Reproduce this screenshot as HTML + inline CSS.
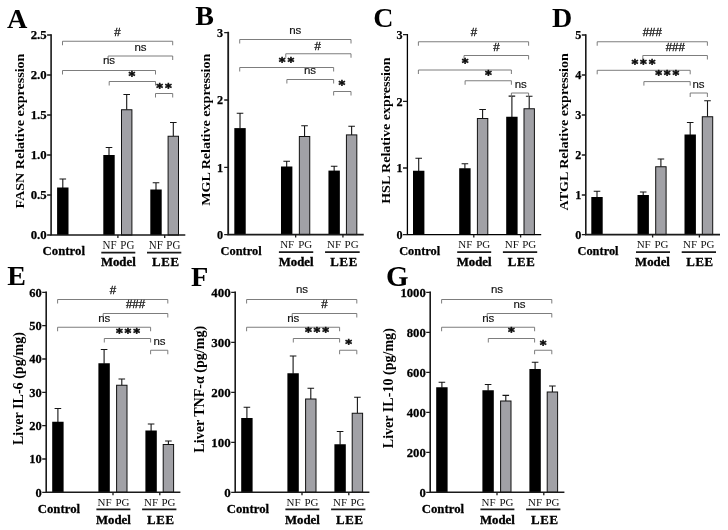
<!DOCTYPE html>
<html lang="en"><head><meta charset="utf-8"><title>Figure</title>
<style>html,body{margin:0;padding:0;background:#fff}body{width:728px;height:530px;overflow:hidden}svg{display:block;filter:blur(0.4px)}</style></head>
<body>
<svg width="728" height="530" viewBox="0 0 728 530">
<rect width="728" height="530" fill="#fff"/>
<g>
<text x="6.9" y="27.6" font-family='"Liberation Serif", "Times New Roman", serif' font-weight="bold" font-size="28.2" fill="#000">A</text>
<path d="M62.80 188.00V179.00M59.50 179.00H66.10" stroke="#151515" stroke-width="1.1" fill="none"/>
<rect x="57.10" y="187.50" width="11.40" height="47.50" fill="#000"/>
<path d="M109.00 155.50V147.50M105.70 147.50H112.30" stroke="#151515" stroke-width="1.1" fill="none"/>
<rect x="103.30" y="155.00" width="11.40" height="80.00" fill="#000"/>
<path d="M126.70 109.75V94.50M123.40 94.50H130.00" stroke="#151515" stroke-width="1.1" fill="none"/>
<rect x="121.50" y="109.75" width="10.40" height="125.25" fill="#a1a1a6" stroke="#111" stroke-width="1"/>
<path d="M156.00 190.00V182.75M152.70 182.75H159.30" stroke="#151515" stroke-width="1.1" fill="none"/>
<rect x="150.30" y="189.50" width="11.40" height="45.50" fill="#000"/>
<path d="M173.30 136.25V122.50M170.00 122.50H176.60" stroke="#151515" stroke-width="1.1" fill="none"/>
<rect x="168.10" y="136.25" width="10.40" height="98.75" fill="#a1a1a6" stroke="#111" stroke-width="1"/>
<path d="M51.10 34.30V235.00H185.30" stroke="#1a1a1a" stroke-width="1.6" fill="none"/>
<path d="M47.10 235.00H51.30M47.10 195.00H51.30M47.10 155.00H51.30M47.10 115.00H51.30M47.10 75.00H51.30M47.10 35.00H51.30M117.90 235.00V238.00M164.70 235.00V238.00" stroke="#1a1a1a" stroke-width="1.3" fill="none"/>
<text transform="translate(46.70 239.47) scale(1 1.0)" text-anchor="end" font-family='"Liberation Serif", "Times New Roman", serif' font-weight="bold" stroke="#000" stroke-width="0.25" font-size="12.8" fill="#000">0.0</text>
<text transform="translate(46.70 199.47) scale(1 1.0)" text-anchor="end" font-family='"Liberation Serif", "Times New Roman", serif' font-weight="bold" stroke="#000" stroke-width="0.25" font-size="12.8" fill="#000">0.5</text>
<text transform="translate(46.70 159.47) scale(1 1.0)" text-anchor="end" font-family='"Liberation Serif", "Times New Roman", serif' font-weight="bold" stroke="#000" stroke-width="0.25" font-size="12.8" fill="#000">1.0</text>
<text transform="translate(46.70 119.47) scale(1 1.0)" text-anchor="end" font-family='"Liberation Serif", "Times New Roman", serif' font-weight="bold" stroke="#000" stroke-width="0.25" font-size="12.8" fill="#000">1.5</text>
<text transform="translate(46.70 79.47) scale(1 1.0)" text-anchor="end" font-family='"Liberation Serif", "Times New Roman", serif' font-weight="bold" stroke="#000" stroke-width="0.25" font-size="12.8" fill="#000">2.0</text>
<text transform="translate(46.70 39.47) scale(1 1.0)" text-anchor="end" font-family='"Liberation Serif", "Times New Roman", serif' font-weight="bold" stroke="#000" stroke-width="0.25" font-size="12.8" fill="#000">2.5</text>
<text transform="translate(23.6 131) rotate(-90) scale(1.09 1)" text-anchor="middle" font-family='"Liberation Serif", "Times New Roman", serif' font-weight="bold" font-size="12.9" fill="#000">FASN Relative expression</text>
<path d="M62.50 45.25V41.25H172.70V45.25" stroke="#6e6e6e" stroke-width="0.9" fill="none"/>
<text x="117.50" y="36.30" text-anchor="middle" font-family='"Liberation Sans", Arial, sans-serif' font-size="11.5" fill="#111" stroke="#111" stroke-width="0.3">#</text>
<path d="M108.10 60.00V56.00H172.70V60.00" stroke="#6e6e6e" stroke-width="0.9" fill="none"/>
<text x="140.50" y="50.60" text-anchor="middle" font-family='"Liberation Sans", Arial, sans-serif' font-size="11.5" fill="#111" stroke="#111" stroke-width="0.15">ns</text>
<path d="M62.50 74.50V70.50H155.50V74.50" stroke="#6e6e6e" stroke-width="0.9" fill="none"/>
<text x="109.00" y="64.10" text-anchor="middle" font-family='"Liberation Sans", Arial, sans-serif' font-size="11.5" fill="#111" stroke="#111" stroke-width="0.15">ns</text>
<path d="M109.20 85.50V81.50H155.50V85.50" stroke="#6e6e6e" stroke-width="0.9" fill="none"/>
<text x="132.95" y="80.00" text-anchor="middle" font-family='"DejaVu Sans", "Liberation Sans", sans-serif' font-weight="bold" font-size="13" letter-spacing="1.9" fill="#0a0a0a" stroke="#0a0a0a" stroke-width="0.55">*</text>
<path d="M155.50 97.50V93.50H172.70V97.50" stroke="#6e6e6e" stroke-width="0.9" fill="none"/>
<text x="164.95" y="92.00" text-anchor="middle" font-family='"DejaVu Sans", "Liberation Sans", sans-serif' font-weight="bold" font-size="13" letter-spacing="1.9" fill="#0a0a0a" stroke="#0a0a0a" stroke-width="0.55">**</text>
<text transform="translate(63.80 255.30) scale(1 1.04)" text-anchor="middle" font-family='"Liberation Serif", "Times New Roman", serif' font-weight="bold" stroke="#000" stroke-width="0.25" font-size="12.8" fill="#000">Control</text>
<text transform="translate(109.50 248.80) scale(1 1.04)" text-anchor="middle" font-family='"Liberation Serif", "Times New Roman", serif' font-size="11" fill="#111">NF</text>
<text transform="translate(127.30 248.80) scale(1 1.04)" text-anchor="middle" font-family='"Liberation Serif", "Times New Roman", serif' font-size="11" fill="#111">PG</text>
<text transform="translate(155.90 248.80) scale(1 1.04)" text-anchor="middle" font-family='"Liberation Serif", "Times New Roman", serif' font-size="11" fill="#111">NF</text>
<text transform="translate(173.30 248.80) scale(1 1.04)" text-anchor="middle" font-family='"Liberation Serif", "Times New Roman", serif' font-size="11" fill="#111">PG</text>
<path d="M101.30 252.60H135.30M147.00 252.60H181.30" stroke="#1a1a1a" stroke-width="1.7" fill="none"/>
<text transform="translate(118.30 266.40) scale(1 1.02)" text-anchor="middle" font-family='"Liberation Serif", "Times New Roman", serif' font-weight="bold" stroke="#000" stroke-width="0.35" font-size="12.8" fill="#000">Model</text>
<text transform="translate(165.80 266.40) scale(1 1.02)" text-anchor="middle" font-family='"Liberation Serif", "Times New Roman", serif' font-weight="bold" stroke="#000" stroke-width="0.35" letter-spacing="0.7" font-size="12.8" fill="#000">LEE</text>
</g>
<g>
<text x="195.3" y="24.6" font-family='"Liberation Serif", "Times New Roman", serif' font-weight="bold" font-size="28" fill="#000">B</text>
<path d="M240.02 128.60V113.30M236.72 113.30H243.32" stroke="#151515" stroke-width="1.1" fill="none"/>
<rect x="234.32" y="128.10" width="11.40" height="106.50" fill="#000"/>
<path d="M286.68 167.00V161.30M283.38 161.30H289.98" stroke="#151515" stroke-width="1.1" fill="none"/>
<rect x="280.98" y="166.50" width="11.40" height="68.10" fill="#000"/>
<path d="M304.55 136.50V125.80M301.25 125.80H307.85" stroke="#151515" stroke-width="1.1" fill="none"/>
<rect x="299.35" y="136.50" width="10.40" height="98.10" fill="#a1a1a6" stroke="#111" stroke-width="1"/>
<path d="M334.15 171.10V166.20M330.85 166.20H337.45" stroke="#151515" stroke-width="1.1" fill="none"/>
<rect x="328.45" y="170.60" width="11.40" height="64.00" fill="#000"/>
<path d="M351.62 134.90V126.30M348.32 126.30H354.92" stroke="#151515" stroke-width="1.1" fill="none"/>
<rect x="346.42" y="134.90" width="10.40" height="99.70" fill="#a1a1a6" stroke="#111" stroke-width="1"/>
<path d="M228.20 31.80V234.60H363.74" stroke="#1a1a1a" stroke-width="1.8" fill="none"/>
<path d="M224.20 234.60H228.40M224.20 167.30H228.40M224.20 100.00H228.40M224.20 32.60H228.40M295.67 234.60V237.60M342.93 234.60V237.60" stroke="#1a1a1a" stroke-width="1.3" fill="none"/>
<text transform="translate(223.00 238.86) scale(1 1.0)" text-anchor="end" font-family='"Liberation Serif", "Times New Roman", serif' font-weight="bold" stroke="#000" stroke-width="0.25" font-size="12.2" fill="#000">0</text>
<text transform="translate(223.00 171.56) scale(1 1.0)" text-anchor="end" font-family='"Liberation Serif", "Times New Roman", serif' font-weight="bold" stroke="#000" stroke-width="0.25" font-size="12.2" fill="#000">1</text>
<text transform="translate(223.00 104.26) scale(1 1.0)" text-anchor="end" font-family='"Liberation Serif", "Times New Roman", serif' font-weight="bold" stroke="#000" stroke-width="0.25" font-size="12.2" fill="#000">2</text>
<text transform="translate(223.00 36.86) scale(1 1.0)" text-anchor="end" font-family='"Liberation Serif", "Times New Roman", serif' font-weight="bold" stroke="#000" stroke-width="0.25" font-size="12.2" fill="#000">3</text>
<text transform="translate(210.3 129.7) rotate(-90) scale(1.09 1)" text-anchor="middle" font-family='"Liberation Serif", "Times New Roman", serif' font-weight="bold" font-size="12.9" fill="#000">MGL Relative expression</text>
<path d="M239.71 43.50V39.50H351.01V43.50" stroke="#6e6e6e" stroke-width="0.9" fill="none"/>
<text x="295.25" y="34.10" text-anchor="middle" font-family='"Liberation Sans", Arial, sans-serif' font-size="11.5" fill="#111" stroke="#111" stroke-width="0.15">ns</text>
<path d="M285.78 57.75V53.75H351.01V57.75" stroke="#6e6e6e" stroke-width="0.9" fill="none"/>
<text x="317.75" y="49.55" text-anchor="middle" font-family='"Liberation Sans", Arial, sans-serif' font-size="11.5" fill="#111" stroke="#111" stroke-width="0.3">#</text>
<path d="M239.71 71.50V67.50H333.64V71.50" stroke="#6e6e6e" stroke-width="0.9" fill="none"/>
<text x="287.45" y="66.00" text-anchor="middle" font-family='"DejaVu Sans", "Liberation Sans", sans-serif' font-weight="bold" font-size="13" letter-spacing="1.9" fill="#0a0a0a" stroke="#0a0a0a" stroke-width="0.55">**</text>
<path d="M286.88 83.50V79.50H333.64V83.50" stroke="#6e6e6e" stroke-width="0.9" fill="none"/>
<text x="310.00" y="74.10" text-anchor="middle" font-family='"Liberation Sans", Arial, sans-serif' font-size="11.5" fill="#111" stroke="#111" stroke-width="0.15">ns</text>
<path d="M333.64 95.50V91.50H351.01V95.50" stroke="#6e6e6e" stroke-width="0.9" fill="none"/>
<text x="342.95" y="89.00" text-anchor="middle" font-family='"DejaVu Sans", "Liberation Sans", sans-serif' font-weight="bold" font-size="13" letter-spacing="1.9" fill="#0a0a0a" stroke="#0a0a0a" stroke-width="0.55">*</text>
<text transform="translate(241.03 254.90) scale(1 1.0)" text-anchor="middle" font-family='"Liberation Serif", "Times New Roman", serif' font-weight="bold" stroke="#000" stroke-width="0.25" font-size="12.4" fill="#000">Control</text>
<text transform="translate(287.18 248.40) scale(1 1.0)" text-anchor="middle" font-family='"Liberation Serif", "Times New Roman", serif' font-size="11" fill="#111">NF</text>
<text transform="translate(305.16 248.40) scale(1 1.0)" text-anchor="middle" font-family='"Liberation Serif", "Times New Roman", serif' font-size="11" fill="#111">PG</text>
<text transform="translate(334.05 248.40) scale(1 1.0)" text-anchor="middle" font-family='"Liberation Serif", "Times New Roman", serif' font-size="11" fill="#111">NF</text>
<text transform="translate(351.62 248.40) scale(1 1.0)" text-anchor="middle" font-family='"Liberation Serif", "Times New Roman", serif' font-size="11" fill="#111">PG</text>
<path d="M278.90 252.20H313.24M325.06 252.20H359.70" stroke="#1a1a1a" stroke-width="1.7" fill="none"/>
<text transform="translate(296.07 266.00) scale(1 1.02)" text-anchor="middle" font-family='"Liberation Serif", "Times New Roman", serif' font-weight="bold" stroke="#000" stroke-width="0.35" font-size="12.8" fill="#000">Model</text>
<text transform="translate(344.05 266.00) scale(1 1.02)" text-anchor="middle" font-family='"Liberation Serif", "Times New Roman", serif' font-weight="bold" stroke="#000" stroke-width="0.35" letter-spacing="0.7" font-size="12.8" fill="#000">LEE</text>
</g>
<g>
<text x="373.2" y="27.4" font-family='"Liberation Serif", "Times New Roman", serif' font-weight="bold" font-size="28" fill="#000">C</text>
<path d="M418.70 171.25V158.25M415.40 158.25H422.00" stroke="#151515" stroke-width="1.1" fill="none"/>
<rect x="413.00" y="170.75" width="11.40" height="63.85" fill="#000"/>
<path d="M464.90 168.75V163.75M461.60 163.75H468.20" stroke="#151515" stroke-width="1.1" fill="none"/>
<rect x="459.20" y="168.25" width="11.40" height="66.35" fill="#000"/>
<path d="M482.60 118.50V109.50M479.30 109.50H485.90" stroke="#151515" stroke-width="1.1" fill="none"/>
<rect x="477.40" y="118.50" width="10.40" height="116.10" fill="#a1a1a6" stroke="#111" stroke-width="1"/>
<path d="M511.90 117.25V96.10M508.60 96.10H515.20" stroke="#151515" stroke-width="1.1" fill="none"/>
<rect x="506.20" y="116.75" width="11.40" height="117.85" fill="#000"/>
<path d="M529.20 108.75V96.25M525.90 96.25H532.50" stroke="#151515" stroke-width="1.1" fill="none"/>
<rect x="524.00" y="108.75" width="10.40" height="125.85" fill="#a1a1a6" stroke="#111" stroke-width="1"/>
<path d="M407.40 33.90V234.60H541.20" stroke="#000" stroke-width="1.3" fill="none"/>
<path d="M403.00 234.60H407.20M403.00 168.00H407.20M403.00 101.30H407.20M403.00 34.60H407.20M473.80 234.60V237.60M520.60 234.60V237.60" stroke="#1a1a1a" stroke-width="1.3" fill="none"/>
<text transform="translate(402.60 238.86) scale(1 1.0)" text-anchor="end" font-family='"Liberation Serif", "Times New Roman", serif' font-weight="bold" stroke="#000" stroke-width="0.25" font-size="12.2" fill="#000">0</text>
<text transform="translate(402.60 172.26) scale(1 1.0)" text-anchor="end" font-family='"Liberation Serif", "Times New Roman", serif' font-weight="bold" stroke="#000" stroke-width="0.25" font-size="12.2" fill="#000">1</text>
<text transform="translate(402.60 105.56) scale(1 1.0)" text-anchor="end" font-family='"Liberation Serif", "Times New Roman", serif' font-weight="bold" stroke="#000" stroke-width="0.25" font-size="12.2" fill="#000">2</text>
<text transform="translate(402.60 38.86) scale(1 1.0)" text-anchor="end" font-family='"Liberation Serif", "Times New Roman", serif' font-weight="bold" stroke="#000" stroke-width="0.25" font-size="12.2" fill="#000">3</text>
<text transform="translate(389.6 130.6) rotate(-90) scale(1.09 1)" text-anchor="middle" font-family='"Liberation Serif", "Times New Roman", serif' font-weight="bold" font-size="12.9" fill="#000">HSL Relative expression</text>
<path d="M418.40 45.75V41.75H528.60V45.75" stroke="#6e6e6e" stroke-width="0.9" fill="none"/>
<text x="474.00" y="36.30" text-anchor="middle" font-family='"Liberation Sans", Arial, sans-serif' font-size="11.5" fill="#111" stroke="#111" stroke-width="0.3">#</text>
<path d="M464.00 59.50V55.50H528.60V59.50" stroke="#6e6e6e" stroke-width="0.9" fill="none"/>
<text x="496.50" y="50.80" text-anchor="middle" font-family='"Liberation Sans", Arial, sans-serif' font-size="11.5" fill="#111" stroke="#111" stroke-width="0.3">#</text>
<path d="M418.40 74.00V70.00H511.40V74.00" stroke="#6e6e6e" stroke-width="0.9" fill="none"/>
<text x="466.20" y="67.25" text-anchor="middle" font-family='"DejaVu Sans", "Liberation Sans", sans-serif' font-weight="bold" font-size="13" letter-spacing="1.9" fill="#0a0a0a" stroke="#0a0a0a" stroke-width="0.55">*</text>
<path d="M465.10 84.75V80.75H511.40V84.75" stroke="#6e6e6e" stroke-width="0.9" fill="none"/>
<text x="489.45" y="79.00" text-anchor="middle" font-family='"DejaVu Sans", "Liberation Sans", sans-serif' font-weight="bold" font-size="13" letter-spacing="1.9" fill="#0a0a0a" stroke="#0a0a0a" stroke-width="0.55">*</text>
<path d="M511.40 97.00V93.00H528.60V97.00" stroke="#6e6e6e" stroke-width="0.9" fill="none"/>
<text x="520.75" y="87.60" text-anchor="middle" font-family='"Liberation Sans", Arial, sans-serif' font-size="11.5" fill="#111" stroke="#111" stroke-width="0.15">ns</text>
<text transform="translate(419.70 254.90) scale(1 1.0)" text-anchor="middle" font-family='"Liberation Serif", "Times New Roman", serif' font-weight="bold" stroke="#000" stroke-width="0.25" font-size="12.4" fill="#000">Control</text>
<text transform="translate(465.40 248.40) scale(1 1.0)" text-anchor="middle" font-family='"Liberation Serif", "Times New Roman", serif' font-size="11" fill="#111">NF</text>
<text transform="translate(483.20 248.40) scale(1 1.0)" text-anchor="middle" font-family='"Liberation Serif", "Times New Roman", serif' font-size="11" fill="#111">PG</text>
<text transform="translate(511.80 248.40) scale(1 1.0)" text-anchor="middle" font-family='"Liberation Serif", "Times New Roman", serif' font-size="11" fill="#111">NF</text>
<text transform="translate(529.20 248.40) scale(1 1.0)" text-anchor="middle" font-family='"Liberation Serif", "Times New Roman", serif' font-size="11" fill="#111">PG</text>
<path d="M457.20 252.20H491.20M502.90 252.20H537.20" stroke="#1a1a1a" stroke-width="1.7" fill="none"/>
<text transform="translate(474.20 266.00) scale(1 1.02)" text-anchor="middle" font-family='"Liberation Serif", "Times New Roman", serif' font-weight="bold" stroke="#000" stroke-width="0.35" font-size="12.8" fill="#000">Model</text>
<text transform="translate(521.70 266.00) scale(1 1.02)" text-anchor="middle" font-family='"Liberation Serif", "Times New Roman", serif' font-weight="bold" stroke="#000" stroke-width="0.35" letter-spacing="0.7" font-size="12.8" fill="#000">LEE</text>
</g>
<g>
<text x="552.1" y="27.4" font-family='"Liberation Serif", "Times New Roman", serif' font-weight="bold" font-size="28" fill="#000">D</text>
<path d="M597.00 197.50V191.25M593.70 191.25H600.30" stroke="#151515" stroke-width="1.1" fill="none"/>
<rect x="591.30" y="197.00" width="11.40" height="37.60" fill="#000"/>
<path d="M643.20 195.50V192.00M639.90 192.00H646.50" stroke="#151515" stroke-width="1.1" fill="none"/>
<rect x="637.50" y="195.00" width="11.40" height="39.60" fill="#000"/>
<path d="M660.90 166.75V159.00M657.60 159.00H664.20" stroke="#151515" stroke-width="1.1" fill="none"/>
<rect x="655.70" y="166.75" width="10.40" height="67.85" fill="#a1a1a6" stroke="#111" stroke-width="1"/>
<path d="M690.20 135.00V122.50M686.90 122.50H693.50" stroke="#151515" stroke-width="1.1" fill="none"/>
<rect x="684.50" y="134.50" width="11.40" height="100.10" fill="#000"/>
<path d="M707.50 116.75V100.75M704.20 100.75H710.80" stroke="#151515" stroke-width="1.1" fill="none"/>
<rect x="702.30" y="116.75" width="10.40" height="117.85" fill="#a1a1a6" stroke="#111" stroke-width="1"/>
<path d="M585.80 34.30V234.60H720.00" stroke="#1a1a1a" stroke-width="1.6" fill="none"/>
<path d="M581.80 234.60H586.00M581.80 195.00H586.00M581.80 155.00H586.00M581.80 115.00H586.00M581.80 75.00H586.00M581.80 35.00H586.00M652.60 234.60V237.60M699.40 234.60V237.60" stroke="#1a1a1a" stroke-width="1.3" fill="none"/>
<text transform="translate(581.40 238.86) scale(1 1.0)" text-anchor="end" font-family='"Liberation Serif", "Times New Roman", serif' font-weight="bold" stroke="#000" stroke-width="0.25" font-size="12.2" fill="#000">0</text>
<text transform="translate(581.40 199.26) scale(1 1.0)" text-anchor="end" font-family='"Liberation Serif", "Times New Roman", serif' font-weight="bold" stroke="#000" stroke-width="0.25" font-size="12.2" fill="#000">1</text>
<text transform="translate(581.40 159.26) scale(1 1.0)" text-anchor="end" font-family='"Liberation Serif", "Times New Roman", serif' font-weight="bold" stroke="#000" stroke-width="0.25" font-size="12.2" fill="#000">2</text>
<text transform="translate(581.40 119.26) scale(1 1.0)" text-anchor="end" font-family='"Liberation Serif", "Times New Roman", serif' font-weight="bold" stroke="#000" stroke-width="0.25" font-size="12.2" fill="#000">3</text>
<text transform="translate(581.40 79.26) scale(1 1.0)" text-anchor="end" font-family='"Liberation Serif", "Times New Roman", serif' font-weight="bold" stroke="#000" stroke-width="0.25" font-size="12.2" fill="#000">4</text>
<text transform="translate(581.40 39.26) scale(1 1.0)" text-anchor="end" font-family='"Liberation Serif", "Times New Roman", serif' font-weight="bold" stroke="#000" stroke-width="0.25" font-size="12.2" fill="#000">5</text>
<text transform="translate(568 131.8) rotate(-90) scale(1.09 1)" text-anchor="middle" font-family='"Liberation Serif", "Times New Roman", serif' font-weight="bold" font-size="12.9" fill="#000">ATGL Relative expression</text>
<path d="M597.20 45.75V41.75H707.40V45.75" stroke="#6e6e6e" stroke-width="0.9" fill="none"/>
<text x="652.25" y="36.30" text-anchor="middle" font-family='"Liberation Sans", Arial, sans-serif' font-size="11.5" fill="#111" stroke="#111" stroke-width="0.3">###</text>
<path d="M642.80 59.50V55.50H707.40V59.50" stroke="#6e6e6e" stroke-width="0.9" fill="none"/>
<text x="675.25" y="50.80" text-anchor="middle" font-family='"Liberation Sans", Arial, sans-serif' font-size="11.5" fill="#111" stroke="#111" stroke-width="0.3">###</text>
<path d="M597.20 74.30V70.30H690.20V74.30" stroke="#6e6e6e" stroke-width="0.9" fill="none"/>
<text x="644.45" y="67.90" text-anchor="middle" font-family='"DejaVu Sans", "Liberation Sans", sans-serif' font-weight="bold" font-size="13" letter-spacing="1.9" fill="#0a0a0a" stroke="#0a0a0a" stroke-width="0.55">***</text>
<path d="M643.90 85.60V81.60H690.20V85.60" stroke="#6e6e6e" stroke-width="0.9" fill="none"/>
<text x="668.20" y="79.20" text-anchor="middle" font-family='"DejaVu Sans", "Liberation Sans", sans-serif' font-weight="bold" font-size="13" letter-spacing="1.9" fill="#0a0a0a" stroke="#0a0a0a" stroke-width="0.55">***</text>
<path d="M690.20 97.00V93.00H707.40V97.00" stroke="#6e6e6e" stroke-width="0.9" fill="none"/>
<text x="698.50" y="87.60" text-anchor="middle" font-family='"Liberation Sans", Arial, sans-serif' font-size="11.5" fill="#111" stroke="#111" stroke-width="0.15">ns</text>
<text transform="translate(598.00 254.90) scale(1 1.0)" text-anchor="middle" font-family='"Liberation Serif", "Times New Roman", serif' font-weight="bold" stroke="#000" stroke-width="0.25" font-size="12.4" fill="#000">Control</text>
<text transform="translate(643.70 248.40) scale(1 1.0)" text-anchor="middle" font-family='"Liberation Serif", "Times New Roman", serif' font-size="11" fill="#111">NF</text>
<text transform="translate(661.50 248.40) scale(1 1.0)" text-anchor="middle" font-family='"Liberation Serif", "Times New Roman", serif' font-size="11" fill="#111">PG</text>
<text transform="translate(690.10 248.40) scale(1 1.0)" text-anchor="middle" font-family='"Liberation Serif", "Times New Roman", serif' font-size="11" fill="#111">NF</text>
<text transform="translate(707.50 248.40) scale(1 1.0)" text-anchor="middle" font-family='"Liberation Serif", "Times New Roman", serif' font-size="11" fill="#111">PG</text>
<path d="M636.00 252.20H670.00M681.70 252.20H716.00" stroke="#1a1a1a" stroke-width="1.7" fill="none"/>
<text transform="translate(652.50 266.00) scale(1 1.02)" text-anchor="middle" font-family='"Liberation Serif", "Times New Roman", serif' font-weight="bold" stroke="#000" stroke-width="0.35" font-size="12.8" fill="#000">Model</text>
<text transform="translate(700.00 266.00) scale(1 1.02)" text-anchor="middle" font-family='"Liberation Serif", "Times New Roman", serif' font-weight="bold" stroke="#000" stroke-width="0.35" letter-spacing="0.7" font-size="12.8" fill="#000">LEE</text>
</g>
<g>
<text x="7.2" y="285.2" font-family='"Liberation Serif", "Times New Roman", serif' font-weight="bold" font-size="28" fill="#000">E</text>
<path d="M57.90 422.25V408.50M54.60 408.50H61.20" stroke="#151515" stroke-width="1.1" fill="none"/>
<rect x="52.20" y="421.75" width="11.40" height="70.55" fill="#000"/>
<path d="M104.10 363.75V349.50M100.80 349.50H107.40" stroke="#151515" stroke-width="1.1" fill="none"/>
<rect x="98.40" y="363.25" width="11.40" height="129.05" fill="#000"/>
<path d="M121.80 385.25V379.00M118.50 379.00H125.10" stroke="#151515" stroke-width="1.1" fill="none"/>
<rect x="116.60" y="385.25" width="10.40" height="107.05" fill="#a1a1a6" stroke="#111" stroke-width="1"/>
<path d="M151.10 431.00V424.00M147.80 424.00H154.40" stroke="#151515" stroke-width="1.1" fill="none"/>
<rect x="145.40" y="430.50" width="11.40" height="61.80" fill="#000"/>
<path d="M168.40 444.50V441.00M165.10 441.00H171.70" stroke="#151515" stroke-width="1.1" fill="none"/>
<rect x="163.20" y="444.50" width="10.40" height="47.80" fill="#a1a1a6" stroke="#111" stroke-width="1"/>
<path d="M46.20 291.60V492.30H180.40" stroke="#1a1a1a" stroke-width="1.6" fill="none"/>
<path d="M42.20 492.30H46.40M42.20 459.00H46.40M42.20 425.60H46.40M42.20 392.30H46.40M42.20 359.00H46.40M42.20 325.60H46.40M42.20 292.30H46.40M113.00 492.30V495.30M159.80 492.30V495.30" stroke="#1a1a1a" stroke-width="1.3" fill="none"/>
<text transform="translate(41.80 496.79) scale(1 1.03)" text-anchor="end" font-family='"Liberation Serif", "Times New Roman", serif' font-weight="bold" stroke="#000" stroke-width="0.25" font-size="12.5" fill="#000">0</text>
<text transform="translate(41.80 463.49) scale(1 1.03)" text-anchor="end" font-family='"Liberation Serif", "Times New Roman", serif' font-weight="bold" stroke="#000" stroke-width="0.25" font-size="12.5" fill="#000">10</text>
<text transform="translate(41.80 430.09) scale(1 1.03)" text-anchor="end" font-family='"Liberation Serif", "Times New Roman", serif' font-weight="bold" stroke="#000" stroke-width="0.25" font-size="12.5" fill="#000">20</text>
<text transform="translate(41.80 396.79) scale(1 1.03)" text-anchor="end" font-family='"Liberation Serif", "Times New Roman", serif' font-weight="bold" stroke="#000" stroke-width="0.25" font-size="12.5" fill="#000">30</text>
<text transform="translate(41.80 363.49) scale(1 1.03)" text-anchor="end" font-family='"Liberation Serif", "Times New Roman", serif' font-weight="bold" stroke="#000" stroke-width="0.25" font-size="12.5" fill="#000">40</text>
<text transform="translate(41.80 330.09) scale(1 1.03)" text-anchor="end" font-family='"Liberation Serif", "Times New Roman", serif' font-weight="bold" stroke="#000" stroke-width="0.25" font-size="12.5" fill="#000">50</text>
<text transform="translate(41.80 296.79) scale(1 1.03)" text-anchor="end" font-family='"Liberation Serif", "Times New Roman", serif' font-weight="bold" stroke="#000" stroke-width="0.25" font-size="12.5" fill="#000">60</text>
<text transform="translate(22.5 388.5) rotate(-90) scale(1.035 1)" text-anchor="middle" font-family='"Liberation Serif", "Times New Roman", serif' font-weight="bold" font-size="13.6" fill="#000">Liver IL-6 (pg/mg)</text>
<path d="M57.60 303.50V299.50H167.80V303.50" stroke="#6e6e6e" stroke-width="0.9" fill="none"/>
<text x="113.00" y="293.55" text-anchor="middle" font-family='"Liberation Sans", Arial, sans-serif' font-size="11.5" fill="#111" stroke="#111" stroke-width="0.3">#</text>
<path d="M103.20 317.50V313.50H167.80V317.50" stroke="#6e6e6e" stroke-width="0.9" fill="none"/>
<text x="135.50" y="308.30" text-anchor="middle" font-family='"Liberation Sans", Arial, sans-serif' font-size="11.5" fill="#111" stroke="#111" stroke-width="0.3">###</text>
<path d="M57.60 331.25V327.25H150.60V331.25" stroke="#6e6e6e" stroke-width="0.9" fill="none"/>
<text x="104.25" y="322.10" text-anchor="middle" font-family='"Liberation Sans", Arial, sans-serif' font-size="11.5" fill="#111" stroke="#111" stroke-width="0.15">ns</text>
<path d="M104.30 342.50V338.50H150.60V342.50" stroke="#6e6e6e" stroke-width="0.9" fill="none"/>
<text x="128.95" y="336.75" text-anchor="middle" font-family='"DejaVu Sans", "Liberation Sans", sans-serif' font-weight="bold" font-size="13" letter-spacing="1.9" fill="#0a0a0a" stroke="#0a0a0a" stroke-width="0.55">***</text>
<path d="M150.60 354.25V350.25H167.80V354.25" stroke="#6e6e6e" stroke-width="0.9" fill="none"/>
<text x="159.50" y="345.10" text-anchor="middle" font-family='"Liberation Sans", Arial, sans-serif' font-size="11.5" fill="#111" stroke="#111" stroke-width="0.15">ns</text>
<text transform="translate(58.90 512.60) scale(1 1.03)" text-anchor="middle" font-family='"Liberation Serif", "Times New Roman", serif' font-weight="bold" stroke="#000" stroke-width="0.25" font-size="12.8" fill="#000">Control</text>
<text transform="translate(104.60 506.10) scale(1 1.03)" text-anchor="middle" font-family='"Liberation Serif", "Times New Roman", serif' font-size="11" fill="#111">NF</text>
<text transform="translate(122.40 506.10) scale(1 1.03)" text-anchor="middle" font-family='"Liberation Serif", "Times New Roman", serif' font-size="11" fill="#111">PG</text>
<text transform="translate(151.00 506.10) scale(1 1.03)" text-anchor="middle" font-family='"Liberation Serif", "Times New Roman", serif' font-size="11" fill="#111">NF</text>
<text transform="translate(168.40 506.10) scale(1 1.03)" text-anchor="middle" font-family='"Liberation Serif", "Times New Roman", serif' font-size="11" fill="#111">PG</text>
<path d="M96.40 509.30H130.40M142.10 509.30H176.40" stroke="#1a1a1a" stroke-width="1.7" fill="none"/>
<text transform="translate(113.40 523.70) scale(1 1.02)" text-anchor="middle" font-family='"Liberation Serif", "Times New Roman", serif' font-weight="bold" stroke="#000" stroke-width="0.35" font-size="12.8" fill="#000">Model</text>
<text transform="translate(160.90 523.70) scale(1 1.02)" text-anchor="middle" font-family='"Liberation Serif", "Times New Roman", serif' font-weight="bold" stroke="#000" stroke-width="0.35" letter-spacing="0.7" font-size="12.8" fill="#000">LEE</text>
</g>
<g>
<text x="191.0" y="285.6" font-family='"Liberation Serif", "Times New Roman", serif' font-weight="bold" font-size="28.3" fill="#000">F</text>
<path d="M246.90 418.50V407.25M243.60 407.25H250.20" stroke="#151515" stroke-width="1.1" fill="none"/>
<rect x="241.20" y="418.00" width="11.40" height="74.30" fill="#000"/>
<path d="M293.10 373.75V356.00M289.80 356.00H296.40" stroke="#151515" stroke-width="1.1" fill="none"/>
<rect x="287.40" y="373.25" width="11.40" height="119.05" fill="#000"/>
<path d="M310.80 399.00V388.25M307.50 388.25H314.10" stroke="#151515" stroke-width="1.1" fill="none"/>
<rect x="305.60" y="399.00" width="10.40" height="93.30" fill="#a1a1a6" stroke="#111" stroke-width="1"/>
<path d="M340.10 444.75V431.50M336.80 431.50H343.40" stroke="#151515" stroke-width="1.1" fill="none"/>
<rect x="334.40" y="444.25" width="11.40" height="48.05" fill="#000"/>
<path d="M357.40 413.25V397.25M354.10 397.25H360.70" stroke="#151515" stroke-width="1.1" fill="none"/>
<rect x="352.20" y="413.25" width="10.40" height="79.05" fill="#a1a1a6" stroke="#111" stroke-width="1"/>
<path d="M235.20 291.60V492.30H369.40" stroke="#1a1a1a" stroke-width="1.6" fill="none"/>
<path d="M231.20 492.30H235.40M231.20 442.30H235.40M231.20 392.30H235.40M231.20 342.30H235.40M231.20 292.30H235.40M302.00 492.30V495.30M348.80 492.30V495.30" stroke="#1a1a1a" stroke-width="1.3" fill="none"/>
<text transform="translate(230.80 496.96) scale(1 1.03)" text-anchor="end" font-family='"Liberation Serif", "Times New Roman", serif' font-weight="bold" stroke="#000" stroke-width="0.25" font-size="13.0" fill="#000">0</text>
<text transform="translate(230.80 446.96) scale(1 1.03)" text-anchor="end" font-family='"Liberation Serif", "Times New Roman", serif' font-weight="bold" stroke="#000" stroke-width="0.25" font-size="13.0" fill="#000">100</text>
<text transform="translate(230.80 396.96) scale(1 1.03)" text-anchor="end" font-family='"Liberation Serif", "Times New Roman", serif' font-weight="bold" stroke="#000" stroke-width="0.25" font-size="13.0" fill="#000">200</text>
<text transform="translate(230.80 346.96) scale(1 1.03)" text-anchor="end" font-family='"Liberation Serif", "Times New Roman", serif' font-weight="bold" stroke="#000" stroke-width="0.25" font-size="13.0" fill="#000">300</text>
<text transform="translate(230.80 296.96) scale(1 1.03)" text-anchor="end" font-family='"Liberation Serif", "Times New Roman", serif' font-weight="bold" stroke="#000" stroke-width="0.25" font-size="13.0" fill="#000">400</text>
<text transform="translate(204.4 389.2) rotate(-90) scale(1.035 1)" text-anchor="middle" font-family='"Liberation Serif", "Times New Roman", serif' font-weight="bold" font-size="13.6" fill="#000">Liver TNF-α (pg/mg)</text>
<path d="M246.60 303.50V299.50H356.80V303.50" stroke="#6e6e6e" stroke-width="0.9" fill="none"/>
<text x="302.00" y="293.35" text-anchor="middle" font-family='"Liberation Sans", Arial, sans-serif' font-size="11.5" fill="#111" stroke="#111" stroke-width="0.15">ns</text>
<path d="M292.20 317.50V313.50H356.80V317.50" stroke="#6e6e6e" stroke-width="0.9" fill="none"/>
<text x="324.50" y="308.30" text-anchor="middle" font-family='"Liberation Sans", Arial, sans-serif' font-size="11.5" fill="#111" stroke="#111" stroke-width="0.3">#</text>
<path d="M246.60 331.25V327.25H339.60V331.25" stroke="#6e6e6e" stroke-width="0.9" fill="none"/>
<text x="293.25" y="321.60" text-anchor="middle" font-family='"Liberation Sans", Arial, sans-serif' font-size="11.5" fill="#111" stroke="#111" stroke-width="0.15">ns</text>
<path d="M293.30 342.50V338.50H339.60V342.50" stroke="#6e6e6e" stroke-width="0.9" fill="none"/>
<text x="317.95" y="336.25" text-anchor="middle" font-family='"DejaVu Sans", "Liberation Sans", sans-serif' font-weight="bold" font-size="13" letter-spacing="1.9" fill="#0a0a0a" stroke="#0a0a0a" stroke-width="0.55">***</text>
<path d="M339.60 354.25V350.25H356.80V354.25" stroke="#6e6e6e" stroke-width="0.9" fill="none"/>
<text x="349.70" y="348.00" text-anchor="middle" font-family='"DejaVu Sans", "Liberation Sans", sans-serif' font-weight="bold" font-size="13" letter-spacing="1.9" fill="#0a0a0a" stroke="#0a0a0a" stroke-width="0.55">*</text>
<text transform="translate(247.90 512.60) scale(1 1.03)" text-anchor="middle" font-family='"Liberation Serif", "Times New Roman", serif' font-weight="bold" stroke="#000" stroke-width="0.25" font-size="12.8" fill="#000">Control</text>
<text transform="translate(293.60 506.10) scale(1 1.03)" text-anchor="middle" font-family='"Liberation Serif", "Times New Roman", serif' font-size="11" fill="#111">NF</text>
<text transform="translate(311.40 506.10) scale(1 1.03)" text-anchor="middle" font-family='"Liberation Serif", "Times New Roman", serif' font-size="11" fill="#111">PG</text>
<text transform="translate(340.00 506.10) scale(1 1.03)" text-anchor="middle" font-family='"Liberation Serif", "Times New Roman", serif' font-size="11" fill="#111">NF</text>
<text transform="translate(357.40 506.10) scale(1 1.03)" text-anchor="middle" font-family='"Liberation Serif", "Times New Roman", serif' font-size="11" fill="#111">PG</text>
<path d="M285.40 509.30H319.40M331.10 509.30H365.40" stroke="#1a1a1a" stroke-width="1.7" fill="none"/>
<text transform="translate(302.40 523.70) scale(1 1.02)" text-anchor="middle" font-family='"Liberation Serif", "Times New Roman", serif' font-weight="bold" stroke="#000" stroke-width="0.35" font-size="12.8" fill="#000">Model</text>
<text transform="translate(349.90 523.70) scale(1 1.02)" text-anchor="middle" font-family='"Liberation Serif", "Times New Roman", serif' font-weight="bold" stroke="#000" stroke-width="0.35" letter-spacing="0.7" font-size="12.8" fill="#000">LEE</text>
</g>
<g>
<text x="386.0" y="285.6" font-family='"Liberation Serif", "Times New Roman", serif' font-weight="bold" font-size="29" fill="#000">G</text>
<path d="M441.90 387.75V382.25M438.60 382.25H445.20" stroke="#151515" stroke-width="1.1" fill="none"/>
<rect x="436.20" y="387.25" width="11.40" height="105.05" fill="#000"/>
<path d="M488.10 390.75V384.50M484.80 384.50H491.40" stroke="#151515" stroke-width="1.1" fill="none"/>
<rect x="482.40" y="390.25" width="11.40" height="102.05" fill="#000"/>
<path d="M505.80 401.00V395.40M502.50 395.40H509.10" stroke="#151515" stroke-width="1.1" fill="none"/>
<rect x="500.60" y="401.00" width="10.40" height="91.30" fill="#a1a1a6" stroke="#111" stroke-width="1"/>
<path d="M535.10 369.50V362.25M531.80 362.25H538.40" stroke="#151515" stroke-width="1.1" fill="none"/>
<rect x="529.40" y="369.00" width="11.40" height="123.30" fill="#000"/>
<path d="M552.40 392.00V386.00M549.10 386.00H555.70" stroke="#151515" stroke-width="1.1" fill="none"/>
<rect x="547.20" y="392.00" width="10.40" height="100.30" fill="#a1a1a6" stroke="#111" stroke-width="1"/>
<path d="M430.20 291.60V492.30H564.40" stroke="#1a1a1a" stroke-width="1.6" fill="none"/>
<path d="M426.20 492.30H430.40M426.20 452.30H430.40M426.20 412.30H430.40M426.20 372.30H430.40M426.20 332.30H430.40M426.20 292.30H430.40M497.00 492.30V495.30M543.80 492.30V495.30" stroke="#1a1a1a" stroke-width="1.3" fill="none"/>
<text transform="translate(425.80 496.86) scale(1 1.03)" text-anchor="end" font-family='"Liberation Serif", "Times New Roman", serif' font-weight="bold" stroke="#000" stroke-width="0.25" font-size="12.7" fill="#000">0</text>
<text transform="translate(425.80 456.86) scale(1 1.03)" text-anchor="end" font-family='"Liberation Serif", "Times New Roman", serif' font-weight="bold" stroke="#000" stroke-width="0.25" font-size="12.7" fill="#000">200</text>
<text transform="translate(425.80 416.86) scale(1 1.03)" text-anchor="end" font-family='"Liberation Serif", "Times New Roman", serif' font-weight="bold" stroke="#000" stroke-width="0.25" font-size="12.7" fill="#000">400</text>
<text transform="translate(425.80 376.86) scale(1 1.03)" text-anchor="end" font-family='"Liberation Serif", "Times New Roman", serif' font-weight="bold" stroke="#000" stroke-width="0.25" font-size="12.7" fill="#000">600</text>
<text transform="translate(425.80 336.86) scale(1 1.03)" text-anchor="end" font-family='"Liberation Serif", "Times New Roman", serif' font-weight="bold" stroke="#000" stroke-width="0.25" font-size="12.7" fill="#000">800</text>
<text transform="translate(425.80 296.86) scale(1 1.03)" text-anchor="end" font-family='"Liberation Serif", "Times New Roman", serif' font-weight="bold" stroke="#000" stroke-width="0.25" font-size="12.7" fill="#000">1000</text>
<text transform="translate(393 388.2) rotate(-90) scale(1.035 1)" text-anchor="middle" font-family='"Liberation Serif", "Times New Roman", serif' font-weight="bold" font-size="13.6" fill="#000">Liver IL-10 (pg/mg)</text>
<path d="M441.60 303.50V299.50H551.80V303.50" stroke="#6e6e6e" stroke-width="0.9" fill="none"/>
<text x="497.00" y="293.35" text-anchor="middle" font-family='"Liberation Sans", Arial, sans-serif' font-size="11.5" fill="#111" stroke="#111" stroke-width="0.15">ns</text>
<path d="M487.20 317.50V313.50H551.80V317.50" stroke="#6e6e6e" stroke-width="0.9" fill="none"/>
<text x="519.50" y="307.60" text-anchor="middle" font-family='"Liberation Sans", Arial, sans-serif' font-size="11.5" fill="#111" stroke="#111" stroke-width="0.15">ns</text>
<path d="M441.60 331.25V327.25H534.60V331.25" stroke="#6e6e6e" stroke-width="0.9" fill="none"/>
<text x="488.25" y="321.60" text-anchor="middle" font-family='"Liberation Sans", Arial, sans-serif' font-size="11.5" fill="#111" stroke="#111" stroke-width="0.15">ns</text>
<path d="M488.30 342.50V338.50H534.60V342.50" stroke="#6e6e6e" stroke-width="0.9" fill="none"/>
<text x="512.45" y="336.25" text-anchor="middle" font-family='"DejaVu Sans", "Liberation Sans", sans-serif' font-weight="bold" font-size="13" letter-spacing="1.9" fill="#0a0a0a" stroke="#0a0a0a" stroke-width="0.55">*</text>
<path d="M534.60 354.25V350.25H551.80V354.25" stroke="#6e6e6e" stroke-width="0.9" fill="none"/>
<text x="544.20" y="348.75" text-anchor="middle" font-family='"DejaVu Sans", "Liberation Sans", sans-serif' font-weight="bold" font-size="13" letter-spacing="1.9" fill="#0a0a0a" stroke="#0a0a0a" stroke-width="0.55">*</text>
<text transform="translate(442.90 512.60) scale(1 1.03)" text-anchor="middle" font-family='"Liberation Serif", "Times New Roman", serif' font-weight="bold" stroke="#000" stroke-width="0.25" font-size="12.8" fill="#000">Control</text>
<text transform="translate(488.60 506.10) scale(1 1.03)" text-anchor="middle" font-family='"Liberation Serif", "Times New Roman", serif' font-size="11" fill="#111">NF</text>
<text transform="translate(506.40 506.10) scale(1 1.03)" text-anchor="middle" font-family='"Liberation Serif", "Times New Roman", serif' font-size="11" fill="#111">PG</text>
<text transform="translate(535.00 506.10) scale(1 1.03)" text-anchor="middle" font-family='"Liberation Serif", "Times New Roman", serif' font-size="11" fill="#111">NF</text>
<text transform="translate(552.40 506.10) scale(1 1.03)" text-anchor="middle" font-family='"Liberation Serif", "Times New Roman", serif' font-size="11" fill="#111">PG</text>
<path d="M480.40 509.30H514.40M526.10 509.30H560.40" stroke="#1a1a1a" stroke-width="1.7" fill="none"/>
<text transform="translate(497.40 523.70) scale(1 1.02)" text-anchor="middle" font-family='"Liberation Serif", "Times New Roman", serif' font-weight="bold" stroke="#000" stroke-width="0.35" font-size="12.8" fill="#000">Model</text>
<text transform="translate(544.90 523.70) scale(1 1.02)" text-anchor="middle" font-family='"Liberation Serif", "Times New Roman", serif' font-weight="bold" stroke="#000" stroke-width="0.35" letter-spacing="0.7" font-size="12.8" fill="#000">LEE</text>
</g>
</svg>
</body></html>
